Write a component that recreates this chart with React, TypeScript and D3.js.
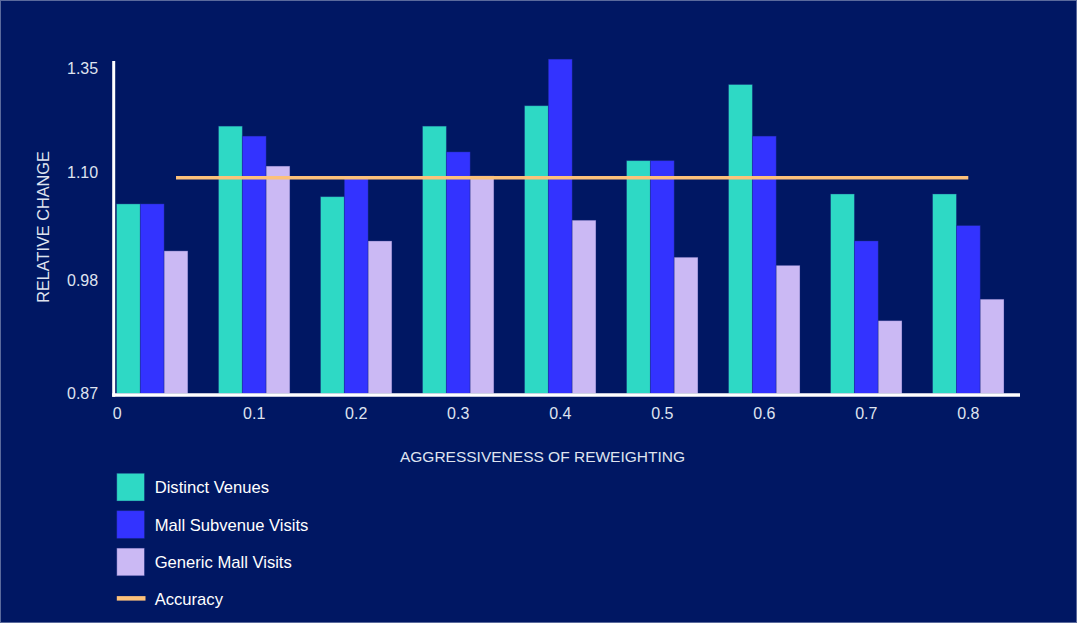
import * as d3 from "d3";

// ─── Data ─────────────────────────────────────────────────────────────────────

const LEVELS = ["0", "0.1", "0.2", "0.3", "0.4", "0.5", "0.6", "0.7", "0.8"];
const SERIES = ["Distinct Venues", "Mall Subvenue Visits", "Generic Mall Visits"];

const DISTINCT_VENUES = [1.065, 1.211, 1.073, 1.211, 1.26, 1.128, 1.311, 1.076, 1.076];
const MALL_SUBVENUE = [1.065, 1.187, 1.095, 1.149, 1.372, 1.128, 1.187, 1.024, 1.041];
const GENERIC_MALL = [1.013, 1.115, 1.024, 1.096, 1.047, 1.006, 0.997, 0.941, 0.962];
const ACCURACY = 1.094;

const Y_TICKS = [0.87, 0.98, 1.1, 1.35];

// ─── Palette ──────────────────────────────────────────────────────────────────

const BG = "#001763";
const TEAL = "#2ed9c5";
const BLUE = "#3333ff";
const LAVENDER = "#cbb9f4";
const ORANGE = "#fcc17a";
const INK = "#dfe3ef";
const FONT = "'Liberation Sans', Arial, sans-serif";

const COLORS = [TEAL, BLUE, LAVENDER];

const W = 1077;
const H = 623;

export default function App() {
  const values = [DISTINCT_VENUES, MALL_SUBVENUE, GENERIC_MALL];

  const x = d3.scaleBand().domain(LEVELS).range([116.5, 1004]).paddingInner(0.3).paddingOuter(0);
  const xs = d3.scaleBand().domain(SERIES).range([0, x.bandwidth()]);
  // tick labels are unevenly spaced in the original, so the scale is piecewise
  const y = d3.scaleLinear().domain(Y_TICKS).range([393.5, 280.7, 172.3, 68.3]);

  const axisX = 113.7;
  const baseY = 395;

  const legendItems = [...SERIES, "Accuracy"];
  const legendY = d3.scaleBand().domain(legendItems).range([473.3, 613.2]).paddingInner(0.26);

  return (
    <svg
      width={W}
      height={H}
      viewBox={`0 0 ${W} ${H}`}
      style={{ position: "fixed", left: 0, top: 0, display: "block" }}
      fontFamily={FONT}
    >
      <rect x={0.5} y={0.5} width={W - 1} height={H - 1} fill={BG} stroke="#5a6a9c" strokeWidth={1} />

      {/* bars */}
      {LEVELS.map((lvl, i) => (
        <g key={lvl} transform={`translate(${x(lvl)},0)`}>
          {SERIES.map((s, j) => (
            <rect
              key={s}
              x={xs(s)}
              y={y(values[j][i])}
              width={xs.bandwidth()}
              height={y(Y_TICKS[0]) - y(values[j][i])}
              fill={COLORS[j]}
              stroke="#1a2a80"
              strokeOpacity={0.45}
              strokeWidth={0.8}
            />
          ))}
        </g>
      ))}

      {/* accuracy line */}
      <line
        x1={x(LEVELS[0])! + x.bandwidth() / 2 + xs.bandwidth()}
        x2={x(LEVELS[LEVELS.length - 1])! + x.bandwidth() / 2}
        y1={y(ACCURACY)}
        y2={y(ACCURACY)}
        stroke={ORANGE}
        strokeWidth={3.4}
      />

      {/* axes */}
      <line x1={axisX} x2={axisX} y1={61} y2={baseY + 1.7} stroke="#ffffff" strokeWidth={3} />
      <line x1={axisX - 1.5} x2={1020} y1={baseY} y2={baseY} stroke="#ffffff" strokeWidth={3.4} />

      {Y_TICKS.map((t) => (
        <text key={t} x={67} y={y(t)} dy="0.36em" fontSize={16} fill={INK}>
          {t.toFixed(2)}
        </text>
      ))}

      {LEVELS.map((lvl, i) => (
        <text
          key={lvl}
          x={i === 0 ? axisX - 1 : x(lvl)! + x.bandwidth() / 2}
          y={413.5}
          dy="0.36em"
          textAnchor={i === 0 ? "start" : "middle"}
          fontSize={16}
          fill={INK}
        >
          {lvl}
        </text>
      ))}

      <text
        transform={`translate(43,227) rotate(-90)`}
        textAnchor="middle"
        dy="0.36em"
        fontSize={16.3}
        fill={INK}
      >
        RELATIVE CHANGE
      </text>

      <text x={542.5} y={456.5} dy="0.36em" textAnchor="middle" fontSize={15.5} fill={INK}>
        AGGRESSIVENESS OF REWEIGHTING
      </text>

      {/* legend */}
      {legendItems.map((item, i) => {
        const top = legendY(item)!;
        const cy = top + legendY.bandwidth() / 2;
        return (
          <g key={item}>
            {i < 3 ? (
              <rect
                x={116.8}
                y={top}
                width={27.6}
                height={legendY.bandwidth()}
                fill={COLORS[i]}
                stroke="#1a2a80"
                strokeOpacity={0.45}
                strokeWidth={0.8}
              />
            ) : (
              <line x1={116.8} x2={145.5} y1={cy - 1} y2={cy - 1} stroke={ORANGE} strokeWidth={4.5} />
            )}
            <text x={154.7} y={cy} dy="0.36em" fontSize={16.6} fill="#ffffff">
              {item}
            </text>
          </g>
        );
      })}
    </svg>
  );
}
